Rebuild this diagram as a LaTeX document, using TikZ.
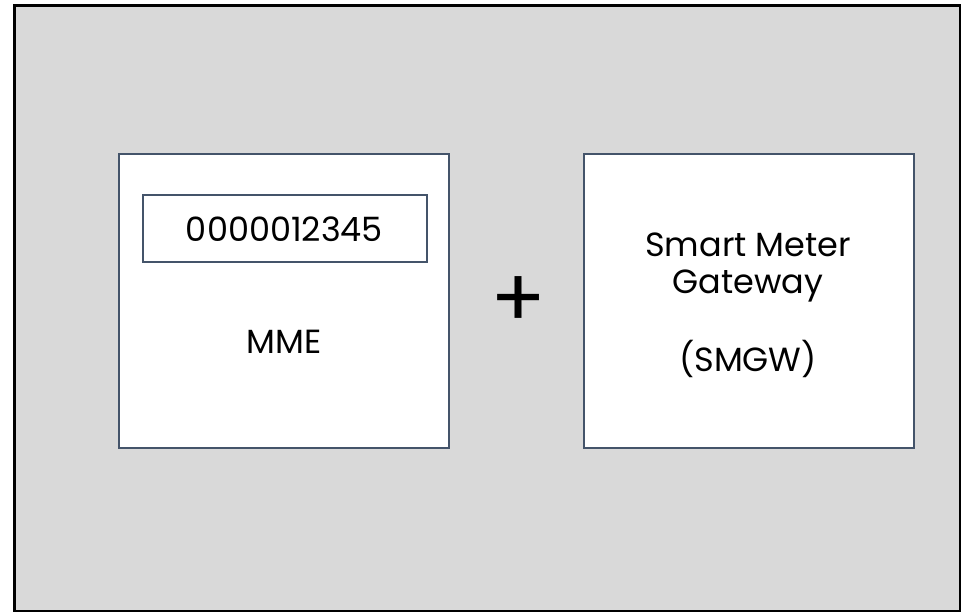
\documentclass[tikz,border=0pt]{standalone}
\usepackage{fontspec}
\setmainfont{Poppins}
\definecolor{bggray}{HTML}{D9D9D9}
\definecolor{slate}{HTML}{44546A}
\begin{document}
\begin{tikzpicture}[x=1pt,y=-1pt,
  panel/.style={draw=slate,line width=2pt,fill=white,inner sep=0pt,anchor=north west},
  lbl/.style={font=\fontsize{33.5}{37}\selectfont,align=center,text=black,inner sep=0pt}]
\useasboundingbox (0,0) rectangle (961,612);
\fill[white] (0,0) rectangle (961,612);
\draw[black,line width=2.5pt,fill=bggray] (14.5,5.5) rectangle (960,611);
\node[panel,minimum width=330pt,minimum height=294pt] (mme) at (118,153) {};
\node[panel,minimum width=284pt,minimum height=67pt] (id) at (142,194) {};
\node[lbl,anchor=base] (idtext) at (284.5,242) {0000012345};
\node[lbl,anchor=base] (mmetext) at (284,353) {MME};
\node[panel,minimum width=330pt,minimum height=294pt] (smgw) at (583,153) {};
\node[lbl,anchor=base] (smgwtext) at (748,371) {Smart Meter\\Gateway\\[37pt](SMGW)};
\node[font=\fontsize{82}{82}\selectfont,inner sep=0pt] (plus) at (518.5,302) {+};
\end{tikzpicture}
\end{document}
